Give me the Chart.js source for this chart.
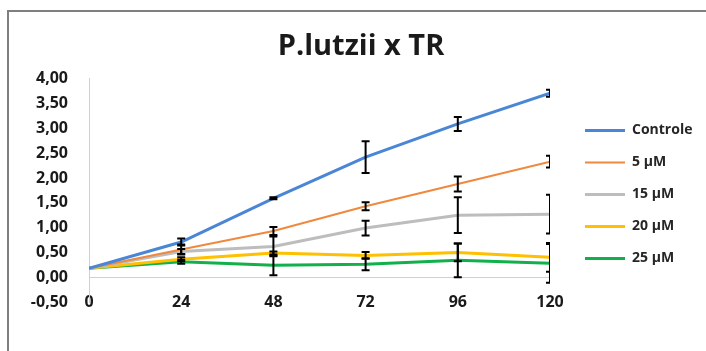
<!DOCTYPE html>
<html>
<head>
<meta charset="utf-8">
<script src="https://cdn.jsdelivr.net/npm/chart.js@4.4.1/dist/chart.umd.min.js"></script>
<style>
	body { margin: 0; background: #fff; }
	#frame { position: absolute; left: 7px; top: 10px; width: 720px; height: 360px; border-top: 2px solid #7f7f7f; border-left: 2px solid #7f7f7f; }
	#pongChart { position: absolute; left: 0; top: 0; }
</style>
</head>
<body>
<div id="frame"></div>
<canvas id="pongChart" width="706" height="351"></canvas>
<script>
// hours
const times = [0, 24, 48, 72, 96, 120];
const labels = ['Controle', '5 µM', '15 µM', '20 µM', '25 µM'];
const controle = [0.18, 0.71, 1.59, 2.42, 3.09, 3.71];
const um5 = [0.18, 0.56, 0.93, 1.43, 1.88, 2.33];
const um15 = [0.18, 0.52, 0.62, 0.99, 1.25, 1.27];
const um20 = [0.18, 0.36, 0.49, 0.44, 0.50, 0.40];
const um25 = [0.18, 0.31, 0.24, 0.26, 0.34, 0.28];
// error bars (+/-)
const errControle = [0, 0.07, 0.02, 0.32, 0.14, 0.07];
const err5 = [0, 0.10, 0.08, 0.08, 0.15, 0.12];
const err15 = [0, 0.05, 0.20, 0.15, 0.36, 0.39];
const err20 = [0, 0.04, 0.03, 0.07, 0.18, 0.29];
const err25 = [0, 0.04, 0.20, 0.12, 0.34, 0.39];
const yMin = -0.5, yMax = 4, yStep = 0.5;

const colors = ['#4a86d6', '#f0883e', '#bdbdbd', '#ffc000', '#12b04a'];
const widths = [3, 2, 3, 3, 3];
const values = [controle, um5, um15, um20, um25];
const errors = [errControle, err5, err15, err20, err25];

const legendFont = 'bold 14px "Open Sans"';
const ctx0 = document.createElement('canvas').getContext('2d');
ctx0.font = legendFont;
let textW = 0;
labels.forEach(l => { textW = Math.max(textW, ctx0.measureText(l).width); });
const legendW = 18 + 40 + 7 + textW + 10;
const padRight = Math.max(0, 139 - legendW);
const padLeft = 16 + padRight;

const errorBars = {
	id: 'errorBars',
	afterDatasetsDraw(chart) {
		const ctx = chart.ctx;
		const area = chart.chartArea;
		const ys = chart.scales.y;
		ctx.save();
		ctx.beginPath();
		ctx.rect(area.left, area.top - 2, area.right - area.left, area.bottom - area.top + 4);
		ctx.clip();
		ctx.strokeStyle = '#000';
		ctx.lineWidth = 2;
		chart.data.datasets.forEach((ds, i) => {
			const meta = chart.getDatasetMeta(i);
			meta.data.forEach((pt, j) => {
				const e = errors[i][j];
				if (!e) return;
				const v = values[i][j];
				const top = ys.getPixelForValue(v + e);
				const bot = ys.getPixelForValue(v - e);
				ctx.beginPath();
				ctx.moveTo(pt.x, top); ctx.lineTo(pt.x, bot);
				ctx.moveTo(pt.x - 4, top); ctx.lineTo(pt.x + 4, top);
				ctx.moveTo(pt.x - 4, bot); ctx.lineTo(pt.x + 4, bot);
				ctx.stroke();
			});
		});
		ctx.restore();
	}
};

new Chart(document.getElementById('pongChart'), {
	type: 'line',
	data: {
		datasets: labels.map((l, i) => ({
			label: l,
			data: times.map((t, j) => ({x: t, y: values[i][j]})),
			borderColor: colors[i],
			backgroundColor: colors[i],
			borderWidth: widths[i],
			pointRadius: 0,
			tension: 0
		}))
	},
	options: {
		responsive: false,
		animation: false,
		layout: { padding: { left: padLeft, right: padRight, top: 0, bottom: 0 } },
		plugins: {
			title: {
				display: true,
				text: 'P.lutzii x TR',
				color: '#1a1a1a',
				font: { family: 'Open Sans', size: 29, weight: 'bold' },
				padding: { top: 29, bottom: 15 }
			},
			legend: {
				position: 'right',
				fullSize: false,
				maxWidth: 300,
				title: { display: true, text: ' ', font: { size: 5 }, padding: 1 },
				labels: {
					usePointStyle: true,
					pointStyle: 'line',
					pointStyleWidth: 40,
					padding: 18,
					color: '#262626',
					font: { family: 'Open Sans', size: 14, weight: 'bold' }
				}
			},
			tooltip: { enabled: false }
		},
		scales: {
			x: {
				type: 'linear',
				min: 0, max: 120,
				ticks: { stepSize: 24, mirror: true, padding: -10, color: '#1a1a1a', font: { family: 'Open Sans', size: 16, weight: 'bold' } },
				grid: { display: false, drawTicks: false },
				border: { display: false },
				afterFit: s => { s.height = 49; }
			},
			y: {
				min: yMin, max: yMax,
				ticks: {
					stepSize: yStep, padding: 21, color: '#1a1a1a',
					font: { family: 'Open Sans', size: 16, weight: 'bold' },
					callback: v => v.toFixed(2).replace('.', ',')
				},
				grid: { drawTicks: false, color: c => c.tick && c.tick.value === 0 ? '#d0d0d0' : 'rgba(0,0,0,0)' },
				border: { display: true, color: '#d0d0d0' },
				afterFit: s => { s.width = 89 - padLeft; }
			},
			gap: {
				type: 'linear',
				position: 'right',
				ticks: { display: false },
				grid: { display: false },
				border: { display: false },
				afterFit: s => { s.width = 17; }
			}
		}
	},
	plugins: [errorBars]
});
</script>
</body>
</html>
